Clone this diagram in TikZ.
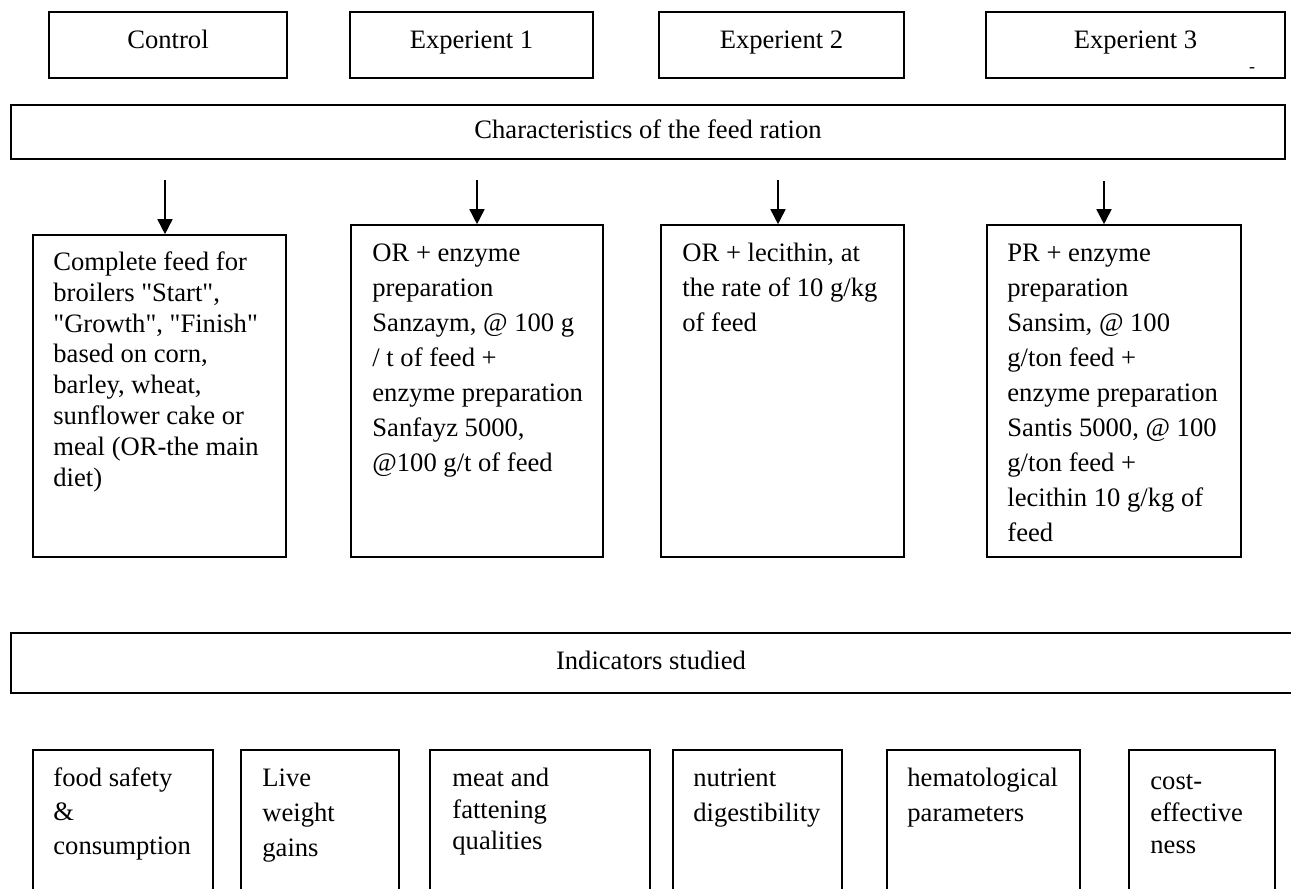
\documentclass[tikz,border=0pt]{standalone}
\usepackage{fontspec}
\setmainfont{Liberation Serif}[Ligatures=TeXOff]
\usetikzlibrary{arrows.meta,fit}
\begin{document}
\begin{tikzpicture}[x=0.5pt,y=-0.5pt,
  bx/.style={draw, line width=0.8pt, inner sep=0pt},
  lbl/.style={inner sep=0pt, anchor=base, font=\fontsize{13.3}{15.5}\selectfont},
  txt/.style={inner sep=0pt, anchor=north west, align=left, font=\fontsize{13.3}{#1}\selectfont},
  txt/.default={17.5pt},
  arr/.style={line width=0.8pt, -{Triangle[length=7.5pt,width=7.5pt]}}]
\useasboundingbox (0,0) rectangle (1291,889);
\clip (0,0) rectangle (1291,889);
% top row
\node[bx, fit={(49,12)(287,78)}] (ctl) {};
\node[lbl] (ctlt) at (168,48) {Control};
\node[bx, fit={(350,12)(593,78)}] (e1) {};
\node[lbl] (e1t) at (471.5,48) {Experient 1};
\node[bx, fit={(659,12)(904,78)}] (e2) {};
\node[lbl] (e2t) at (781.5,48) {Experient 2};
\node[bx, fit={(986,12)(1285,78)}] (e3) {};
\node[lbl] (e3t) at (1135.5,48) {Experient 3};
\node[inner sep=0pt, font=\fontsize{9}{10}\selectfont] (dash) at (1252,70) {-};
% characteristics
\node[bx, fit={(11,105)(1285,159)}] (ch) {};
\node[lbl] (cht) at (648,138) {Characteristics of the feed ration};
% middle boxes
\node[bx, fit={(33,235)(286,557)}] (m1) {};
\node[bx, fit={(351,225)(603,557)}] (m2) {};
\node[bx, fit={(661,225)(904,557)}] (m3) {};
\node[bx, fit={(987,225)(1241,557)}] (m4) {};
\node[txt=15.4pt] (m1t) at (53,250) {\rule{0pt}{10pt}Complete feed for\\broilers "Start",\\"Growth", "Finish"\\based on corn,\\barley, wheat,\\sunflower cake or\\meal (OR-the main\\diet)};
\node[txt] (m2t) at (372,241) {\rule{0pt}{10pt}OR + enzyme\\preparation\\Sanzaym, @ 100 g\\/ t of feed +\\enzyme preparation\\Sanfayz 5000,\\@100 g/t of feed};
\node[txt] (m3t) at (682,241) {\rule{0pt}{10pt}OR + lecithin, at\\the rate of 10 g/kg\\of feed};
\node[txt] (m4t) at (1007,241) {\rule{0pt}{10pt}PR + enzyme\\preparation\\Sansim, @ 100\\g/ton feed +\\enzyme preparation\\Santis 5000, @ 100\\g/ton feed +\\lecithin 10 g/kg of\\feed};
% arrows
\coordinate (a1) at (165,180);
\coordinate (a2) at (477,180);
\coordinate (a3) at (778,180);
\coordinate (a4) at (1104,181);
\draw[arr] (a1) -- (a1 |- m1.north);
\draw[arr] (a2) -- (a2 |- m2.north);
\draw[arr] (a3) -- (a3 |- m3.north);
\draw[arr] (a4) -- (a4 |- m4.north);
% indicators
\node[bx, fit={(11,633)(1320,693)}] (ind) {};
\node[lbl] (indt) at (651,669) {Indicators studied};
% bottom boxes
\node[bx, fit={(33,750)(213,920)}] (b1) {};
\node[bx, fit={(241,750)(399,920)}] (b2) {};
\node[bx, fit={(430,750)(650,920)}] (b3) {};
\node[bx, fit={(673,750)(842,920)}] (b4) {};
\node[bx, fit={(887,750)(1080,920)}] (b5) {};
\node[bx, fit={(1129,750)(1275,920)}] (b6) {};
\node[txt=17pt] (b1t) at (53,766) {\rule{0pt}{10pt}food safety\\\&\\consumption};
\node[txt] (b2t) at (262,766) {\rule{0pt}{10pt}Live\\weight\\gains};
\node[txt=15.8pt] (b3t) at (452,766) {\rule{0pt}{10pt}meat and\\fattening\\qualities};
\node[txt] (b4t) at (693,766) {\rule{0pt}{10pt}nutrient\\digestibility};
\node[txt] (b5t) at (907,766) {\rule{0pt}{10pt}hematological\\parameters};
\node[txt=16pt] (b6t) at (1150,769) {\rule{0pt}{10pt}cost-\\effective\\ness};
\end{tikzpicture}
\end{document}
